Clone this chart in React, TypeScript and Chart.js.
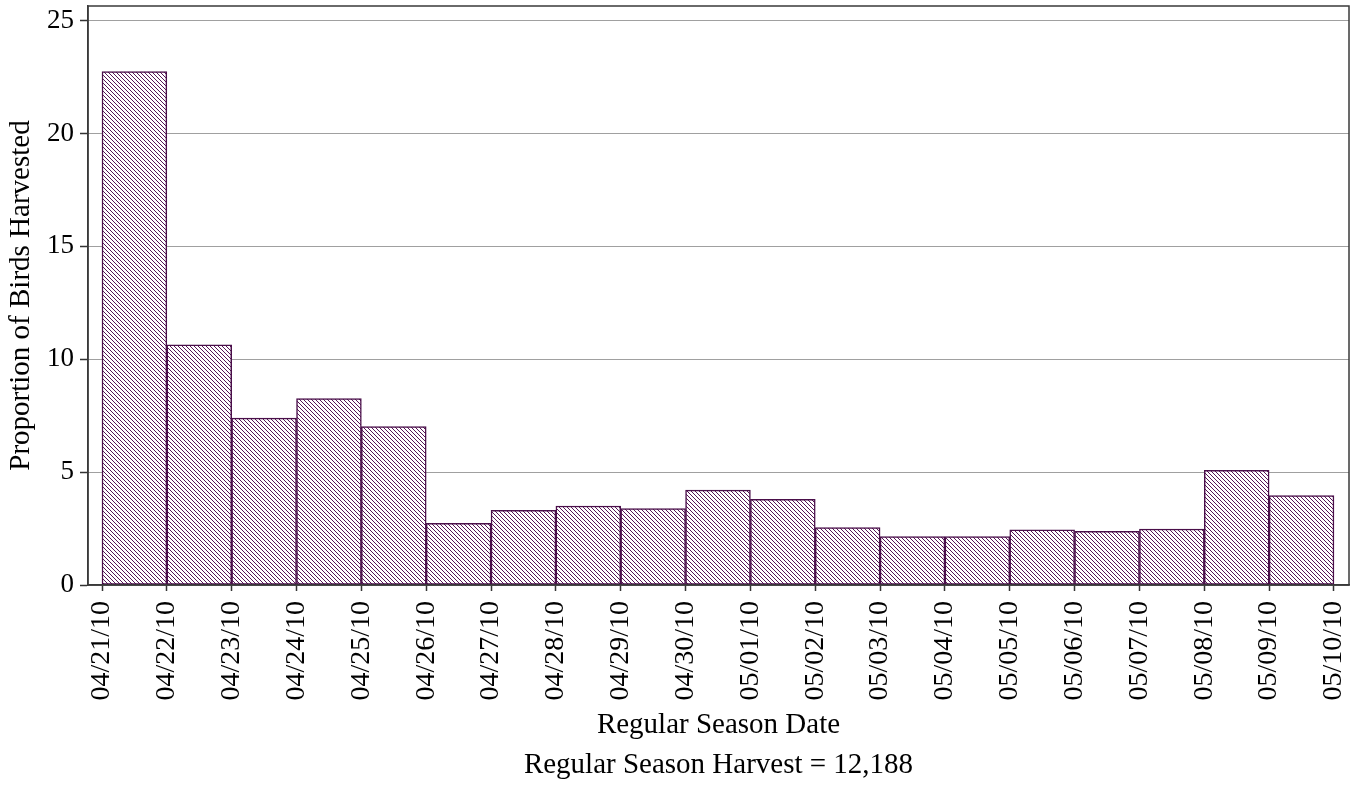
import React, { useEffect, useRef } from 'react';
import { Chart, registerables } from 'chart.js';

Chart.register(...registerables);

const dateLabels: string[] = [
  '04/21/10', '04/22/10', '04/23/10', '04/24/10', '04/25/10', '04/26/10', '04/27/10',
  '04/28/10', '04/29/10', '04/30/10', '05/01/10', '05/02/10', '05/03/10', '05/04/10',
  '05/05/10', '05/06/10', '05/07/10', '05/08/10', '05/09/10', '05/10/10',
];

const proportions: number[] = [
  22.75, 10.64, 7.39, 8.26, 7.02, 2.73, 3.31, 3.5, 3.38, 4.2,
  3.8, 2.54, 2.14, 2.14, 2.44, 2.38, 2.48, 5.08, 3.96,
];

const yTicks: number[] = [0, 5, 10, 15, 20, 25];

const yTitle = 'Proportion of Birds Harvested';
const xTitle = 'Regular Season Date';
const footnote = 'Regular Season Harvest = 12,188';

const FONT = "'Liberation Serif', 'Times New Roman', serif";

function makeHatch(): CanvasPattern | string {
  const c = document.createElement('canvas');
  c.width = 4;
  c.height = 4;
  const g = c.getContext('2d');
  if (!g) return '#ffffff';
  g.fillStyle = '#ffffff';
  g.fillRect(0, 0, 4, 4);
  g.fillStyle = '#561656';
  for (let i = 0; i < 4; i++) g.fillRect(i, i, 1, 1);
  return g.createPattern(c, 'repeat') || '#ffffff';
}

const framePlugin = {
  id: 'frame',
  afterDraw(chart: any) {
    const { ctx, chartArea } = chart;
    ctx.save();
    ctx.strokeStyle = '#3a3a3a';
    ctx.lineWidth = 1.5;
    ctx.strokeRect(chartArea.left, chartArea.top, chartArea.right - chartArea.left, chartArea.bottom - chartArea.top);
    ctx.restore();
  },
};

export default function App() {
  const ref = useRef<HTMLCanvasElement | null>(null);

  useEffect(() => {
    if (!ref.current) return;
    const chart = new Chart(ref.current, {
      type: 'bar',
      data: {
        datasets: [
          {
            data: proportions.map((v, i) => ({ x: i + 0.5, y: v })),
            backgroundColor: makeHatch() as any,
            borderColor: '#4a0f4a',
            borderWidth: 1.5,
            borderSkipped: false,
            barPercentage: 1,
            categoryPercentage: 1,
          } as any,
        ],
      },
      options: {
        responsive: false,
        animation: false,
        events: [],
        layout: { padding: { top: 6, right: 9, left: 0, bottom: 0 } },
        plugins: {
          legend: { display: false },
          tooltip: { enabled: false },
          title: { display: false },
        },
        scales: {
          x: {
            type: 'linear',
            min: -0.216,
            max: 19.232,
            offset: false,
            afterBuildTicks: (scale: any) => {
              scale.ticks = dateLabels.map((_, i) => ({ value: i }));
            },
            afterFit: (scale: any) => {
              scale.height = 200;
              scale.paddingLeft = 0;
              scale.paddingRight = 0;
            },
            ticks: {
              autoSkip: false,
              minRotation: 90,
              maxRotation: 90,
              padding: 10,
              color: '#000',
              font: { family: FONT, size: 28 },
              callback: (_v: any, index: number) => dateLabels[index],
            },
            grid: {
              display: true,
              offset: false,
              drawOnChartArea: false,
              drawTicks: true,
              tickLength: 6,
              tickColor: '#333',
              tickWidth: 1.5,
            },
            border: { display: true, color: '#3a3a3a', width: 1.5 },
            title: {
              display: true,
              text: [xTitle, footnote],
              color: '#000',
              font: { family: FONT, size: 29, lineHeight: '40px' } as any,
              padding: { top: 0, bottom: 0 },
            },
          },
          y: {
            type: 'linear',
            min: 0,
            max: 25.65,
            afterBuildTicks: (scale: any) => {
              scale.ticks = yTicks.map((v) => ({ value: v }));
            },
            afterFit: (scale: any) => {
              scale.width = 88;
              scale.paddingTop = 0;
              scale.paddingBottom = 0;
            },
            ticks: {
              padding: 6,
              color: '#000',
              font: { family: FONT, size: 27 },
            },
            grid: {
              display: true,
              drawOnChartArea: true,
              drawTicks: true,
              tickLength: 8,
              color: '#404040',
              lineWidth: 1,
              tickColor: '#333',
              tickWidth: 1.5,
            },
            border: { display: true, color: '#3a3a3a', width: 1.5, dash: [1, 1] },
            title: {
              display: true,
              text: yTitle,
              color: '#000',
              font: { family: FONT, size: 29 },
              padding: { top: 4, bottom: 0 },
            },
          },
        },
      } as any,
      plugins: [framePlugin],
    });
    return () => chart.destroy();
  }, []);

  return (
    <div style={{ position: 'fixed', left: 0, top: 0, width: 1358, height: 785, background: '#fff' }}>
      <canvas ref={ref} width={1358} height={785} style={{ display: 'block' }} />
    </div>
  );
}
